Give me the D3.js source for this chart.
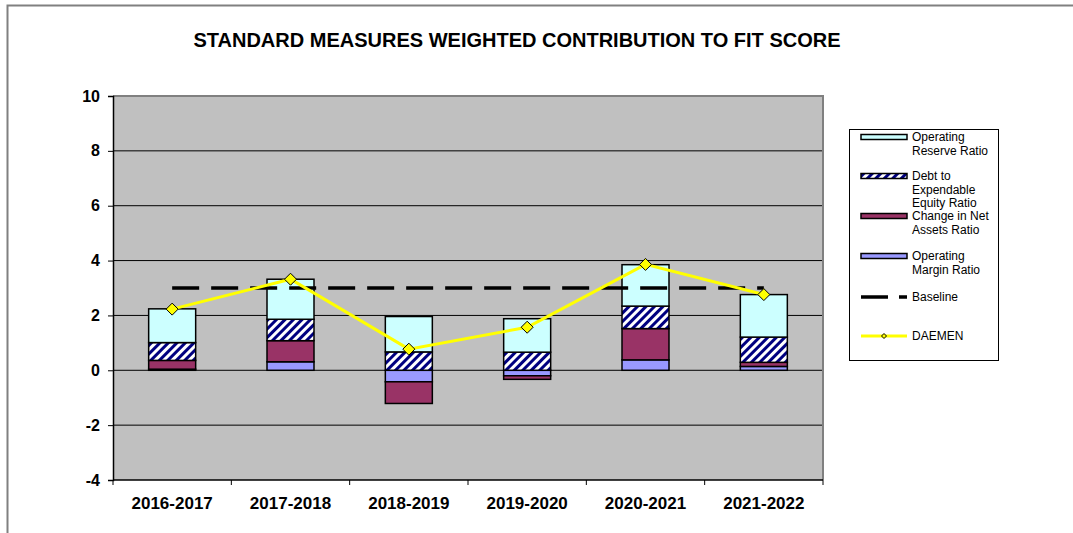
<!DOCTYPE html>
<html>
    <head>
        <meta charset="utf-8">
        <title>Standard measures weighted contribution</title>
        <script src="https://d3js.org/d3.v7.min.js"></script>
        <style>
            body { margin:0; background:#fff; }
            svg { width:1073px; height:533px; display:block; }
            text { font-family: Arial, "Liberation Sans", sans-serif; }
            .tick text { font-weight:bold; fill:#000; }
            .y-axis .tick text { font-size:16px; }
            .x-axis .tick text { font-size:17px; }
            .legend-text { font-size:12px; }
        </style>
    </head>
    <body>
        <svg id="chart"></svg>
    </body>
    <script>
        // values
        const years = ['2016-2017','2017-2018','2018-2019','2019-2020','2020-2021','2021-2022'];
        const operatingMargin  = [0.04, 0.31, -0.42, -0.20, 0.38, 0.14];
        const changeNetAssets  = [0.32, 0.77, -0.79, -0.13, 1.14, 0.15];
        const debtEquity       = [0.65, 0.78, 0.67, 0.66, 0.82, 0.92];
        const operatingReserve = [1.23, 1.46, 1.29, 1.22, 1.51, 1.55];
        const baseline = [3, 3, 3, 3, 3, 3];
        const daemen   = [2.23, 3.32, 0.77, 1.57, 3.86, 2.76];
        const yTicks = [-4, -2, 0, 2, 4, 6, 8, 10];

        const seriesKeys = ['margin','change','debt','reserve'];
        const seriesFill = { margin:'#9999FF', change:'#993366', debt:'url(#hatch)', reserve:'#CCFFFF' };

        const svg = d3.select('#chart');
        const plot = { left:113, right:823, top:96, bottom:480 };

        // hatch pattern for the debt series
        const defs = svg.append('defs');
        const pat = defs.append('pattern')
            .attr('id','hatch')
            .attr('patternUnits','userSpaceOnUse')
            .attr('width',6).attr('height',6)
            .attr('patternTransform','rotate(45)');
        pat.append('rect').attr('width',6).attr('height',6).attr('fill','#fff');
        pat.append('rect').attr('width',3).attr('height',6).attr('fill','#000080');

        // outer chart border
        svg.append('rect')
            .attr('x',7.5).attr('y',5.5)
            .attr('width',1200).attr('height',600)
            .attr('fill','none').attr('stroke','#808080').attr('stroke-width',2);

        svg.append('text')
            .attr('x',517).attr('y',47)
            .attr('text-anchor','middle')
            .style('font-size','20px').style('font-weight','bold')
            .text('STANDARD MEASURES WEIGHTED CONTRIBUTION TO FIT SCORE');

        const x = d3.scaleBand().domain(years).range([plot.left, plot.right]);
        const y = d3.scaleLinear().domain([-4, 10]).range([plot.bottom, plot.top]);

        // plot background
        svg.append('rect')
            .attr('x',plot.left).attr('y',plot.top)
            .attr('width',plot.right-plot.left).attr('height',plot.bottom-plot.top)
            .attr('fill','#C0C0C0');

        // gridlines
        svg.append('g').selectAll('line')
            .data(yTicks.filter(d => d > -4 && d < 10))
            .enter().append('line')
            .attr('x1',plot.left).attr('x2',plot.right)
            .attr('y1',d => y(d)).attr('y2',d => y(d))
            .attr('stroke','#000').attr('stroke-width',1);

        // top and right border of the plot
        svg.append('path')
            .attr('d',`M${plot.left},${plot.top}H${plot.right}V${plot.bottom}`)
            .attr('fill','none').attr('stroke','#808080').attr('stroke-width',2);

        // stacked bars
        const table = years.map((yr, i) => ({
            year: yr,
            margin: operatingMargin[i],
            change: changeNetAssets[i],
            debt: debtEquity[i],
            reserve: operatingReserve[i]
        }));
        const stacked = d3.stack().keys(seriesKeys).offset(d3.stackOffsetDiverging)(table);
        const barW = 47;

        svg.append('g').selectAll('g')
            .data(stacked)
            .enter().append('g')
            .attr('fill', s => seriesFill[s.key])
            .selectAll('rect')
            .data(s => s)
            .enter().append('rect')
            .attr('x', d => x(d.data.year) + x.bandwidth()/2 - barW/2)
            .attr('width', barW)
            .attr('y', d => y(Math.max(d[0], d[1])))
            .attr('height', d => Math.abs(y(d[0]) - y(d[1])))
            .attr('stroke','#000').attr('stroke-width',1.5);

        // axes
        const yAxis = d3.axisLeft(y).tickValues(yTicks).tickSize(5).tickPadding(8)
                        .tickFormat(d => String(d));   // plain hyphen minus like the original
        const gy = svg.append('g').attr('class','y-axis').attr('transform',`translate(${plot.left},0)`).call(yAxis);
        gy.select('.domain').attr('stroke','#000').attr('stroke-width',1.5);

        const xAxis = d3.axisBottom(x).tickSize(5).tickPadding(12);
        const gx = svg.append('g').attr('class','x-axis').attr('transform',`translate(0,${plot.bottom})`).call(xAxis);
        gx.select('.domain').remove();
        gx.append('line')
            .attr('x1',plot.left).attr('x2',plot.right)
            .attr('stroke','#000').attr('stroke-width',1.5);
        // category ticks sit on the band edges
        gx.selectAll('.tick line').remove();
        gx.append('g').selectAll('line')
            .data(years.concat(['end']))
            .enter().append('line')
            .attr('x1',(d,i) => plot.left + i*x.bandwidth())
            .attr('x2',(d,i) => plot.left + i*x.bandwidth())
            .attr('y1',0).attr('y2',5)
            .attr('stroke','#000');

        // baseline series
        const line = d3.line()
            .x((d,i) => x(years[i]) + x.bandwidth()/2)
            .y(d => y(d));
        svg.append('path')
            .datum(baseline)
            .attr('d', line)
            .attr('fill','none').attr('stroke','#000')
            .attr('stroke-width',3.5).attr('stroke-dasharray','27,12');

        // DAEMEN series
        svg.append('path')
            .datum(daemen)
            .attr('d', line)
            .attr('fill','none').attr('stroke','#FFFF00')
            .attr('stroke-width',3);
        svg.append('g').selectAll('path')
            .data(daemen)
            .enter().append('path')
            .attr('transform',(d,i) => `translate(${x(years[i]) + x.bandwidth()/2},${y(d)})`)
            .attr('d','M0,-6L6,0L0,6L-6,0Z')
            .attr('fill','#FFFF00').attr('stroke','#000').attr('stroke-width',1);

        // legend
        const lg = svg.append('g');
        lg.append('rect')
            .attr('x',849.5).attr('y',129.5).attr('width',149).attr('height',231)
            .attr('fill','#fff').attr('stroke','#000').attr('stroke-width',1);

        const legendItems = [
            { type:'box', fill:'#CCFFFF', y:137, lines:['Operating','Reserve Ratio'] },
            { type:'box', fill:'url(#hatch)', y:176, lines:['Debt to','Expendable','Equity Ratio'] },
            { type:'box', fill:'#993366', y:216, lines:['Change in Net','Assets Ratio'] },
            { type:'box', fill:'#9999FF', y:256, lines:['Operating','Margin Ratio'] },
            { type:'base', y:297, lines:['Baseline'] },
            { type:'daemen', y:336, lines:['DAEMEN'] }
        ];
        legendItems.forEach(item => {
            if (item.type === 'box') {
                lg.append('rect')
                    .attr('x',861).attr('y',item.y-2.5).attr('width',46).attr('height',5)
                    .attr('fill',item.fill).attr('stroke','#000').attr('stroke-width',1.5);
            } else if (item.type === 'base') {
                lg.append('line')
                    .attr('x1',861).attr('x2',907).attr('y1',item.y).attr('y2',item.y)
                    .attr('stroke','#000').attr('stroke-width',3.5).attr('stroke-dasharray','27,11');
            } else {
                lg.append('line')
                    .attr('x1',861).attr('x2',907).attr('y1',item.y).attr('y2',item.y)
                    .attr('stroke','#FFFF00').attr('stroke-width',3);
                lg.append('path')
                    .attr('transform',`translate(884,${item.y})`)
                    .attr('d','M0,-2.5L2.5,0L0,2.5L-2.5,0Z')
                    .attr('fill','#FFFF00').attr('stroke','#000').attr('stroke-width',1);
            }
            item.lines.forEach((t, j) => {
                lg.append('text')
                    .attr('class','legend-text')
                    .attr('x',912).attr('y',item.y + 4 + j*13.5)
                    .text(t);
            });
        });
    </script>
</html>
